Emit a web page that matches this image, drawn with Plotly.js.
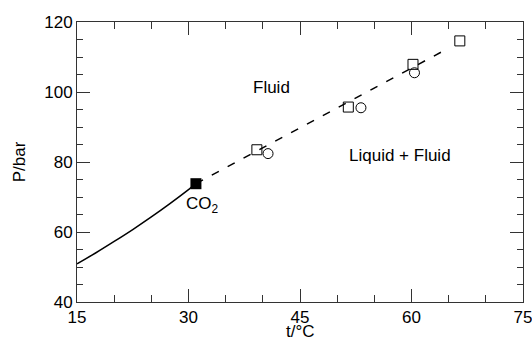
<!DOCTYPE html>
<html>
<head>
<meta charset="utf-8">
<script src="https://cdn.plot.ly/plotly-3.0.1.min.js"></script>
<style>html,body{margin:0;padding:0;background:#fff;}#chart{width:532px;height:337px;}</style>
</head>
<body>
<div id="chart"></div>
<script>
// Vapour pressure curve (liquid-gas) of CO2
const vapT = [15, 17.5, 20, 22.5, 25, 27.5, 30, 31.0];
const vapP = [50.9, 54.0, 57.3, 60.7, 64.3, 68.1, 72.1, 73.8];
// Critical point of CO2
const critT = [31.0];
const critP = [73.8];
// Critical line of mixture (dashed)
const critLineT = [31.0, 40, 50, 60, 64.0];
const critLineP = [73.8, 84.1, 95.5, 106.9, 111.4];
// Experimental points: squares and circles
const sqT = [39.2, 51.5, 60.2, 66.5];
const sqP = [83.5, 95.7, 107.9, 114.6];
const ciT = [40.7, 53.2, 60.4];
const ciP = [82.4, 95.5, 105.5];
// Region labels
const labelText = ["Fluid", "Liquid + Fluid", "CO<sub>2</sub>"];
const labelT = [41.2, 58.5, 31.9];
const labelP = [101.4, 81.9, 67.6];
// Axis ranges, ticks and titles
const xRange = [15, 75];
const yRange = [40, 120];
const xTicks = [15, 30, 45, 60, 75];
const yTicks = [40, 60, 80, 100, 120];
const xTitle = "t/°C";
const yTitle = "P/bar";

const font = {family: "Liberation Sans, Arial, sans-serif", size: 17, color: "#000"};
const lc = "#333";

const traces = [
  {x: vapT, y: vapP, mode: "lines", line: {color: "#000", width: 1.5, shape: "spline"}, hoverinfo: "skip"},
  {x: critLineT, y: critLineP, mode: "lines", line: {color: "#000", width: 1.5, dash: "8px,10px"}, hoverinfo: "skip"},
  {x: sqT, y: sqP, mode: "markers", marker: {symbol: "square-open", size: 10, color: "#000", line: {width: 1}}},
  {x: ciT, y: ciP, mode: "markers", marker: {symbol: "circle-open", size: 10, color: "#000", line: {width: 1}}},
  {x: critT, y: critP, mode: "markers", marker: {symbol: "square", size: 11, color: "#000"}},
  {x: critT, y: critP, xaxis: "x2", yaxis: "y2", mode: "markers", marker: {opacity: 0}, hoverinfo: "skip"}
];

const base = {
  showgrid: false, zeroline: false, showline: true, linecolor: lc, linewidth: 1,
  ticks: "inside", ticklen: 13, tickwidth: 1, tickcolor: lc, tickfont: font
};

const layout = {
  width: 532, height: 337,
  margin: {l: 77, r: 9, t: 22, b: 35},
  paper_bgcolor: "#fff", plot_bgcolor: "#fff",
  showlegend: false,
  font: font,
  xaxis: Object.assign({}, base, {
    range: xRange, tickmode: "array", tickvals: xTicks, ticktext: xTicks.map(String),
    minor: {tickmode: "linear", tick0: 15, dtick: 5, ticks: "inside", ticklen: 7, tickcolor: lc, tickwidth: 1},
    ticklabeloverflow: "allow"
  }),
  yaxis: Object.assign({}, base, {
    range: yRange, tickmode: "array", tickvals: yTicks, ticktext: yTicks.map(String),
    minor: {tickmode: "linear", tick0: 40, dtick: 5, ticks: "inside", ticklen: 6, tickcolor: lc, tickwidth: 1},
    ticklabeloverflow: "allow",
    title: {text: yTitle, font: font, standoff: 14}
  }),
  xaxis2: Object.assign({}, base, {
    overlaying: "x", side: "top", anchor: "y2", range: xRange,
    tickmode: "array", tickvals: xTicks, showticklabels: false,
    minor: {tickmode: "linear", tick0: 15, dtick: 5, ticks: "inside", ticklen: 7, tickcolor: lc, tickwidth: 1}
  }),
  yaxis2: Object.assign({}, base, {
    overlaying: "y", side: "right", anchor: "x2", range: yRange,
    tickmode: "array", tickvals: yTicks, showticklabels: false,
    minor: {tickmode: "linear", tick0: 40, dtick: 5, ticks: "inside", ticklen: 6, tickcolor: lc, tickwidth: 1}
  }),
  annotations: labelText.map((t, i) => ({
    x: labelT[i], y: labelP[i], xref: "x", yref: "y", text: t, showarrow: false,
    font: font
  })).concat([{
    x: 0.5, y: -0.104, xref: "paper", yref: "paper", xanchor: "center", yanchor: "middle",
    text: xTitle, showarrow: false, font: font
  }])
};

Plotly.newPlot("chart", traces, layout, {displayModeBar: false, staticPlot: true});
</script>
</body>
</html>
